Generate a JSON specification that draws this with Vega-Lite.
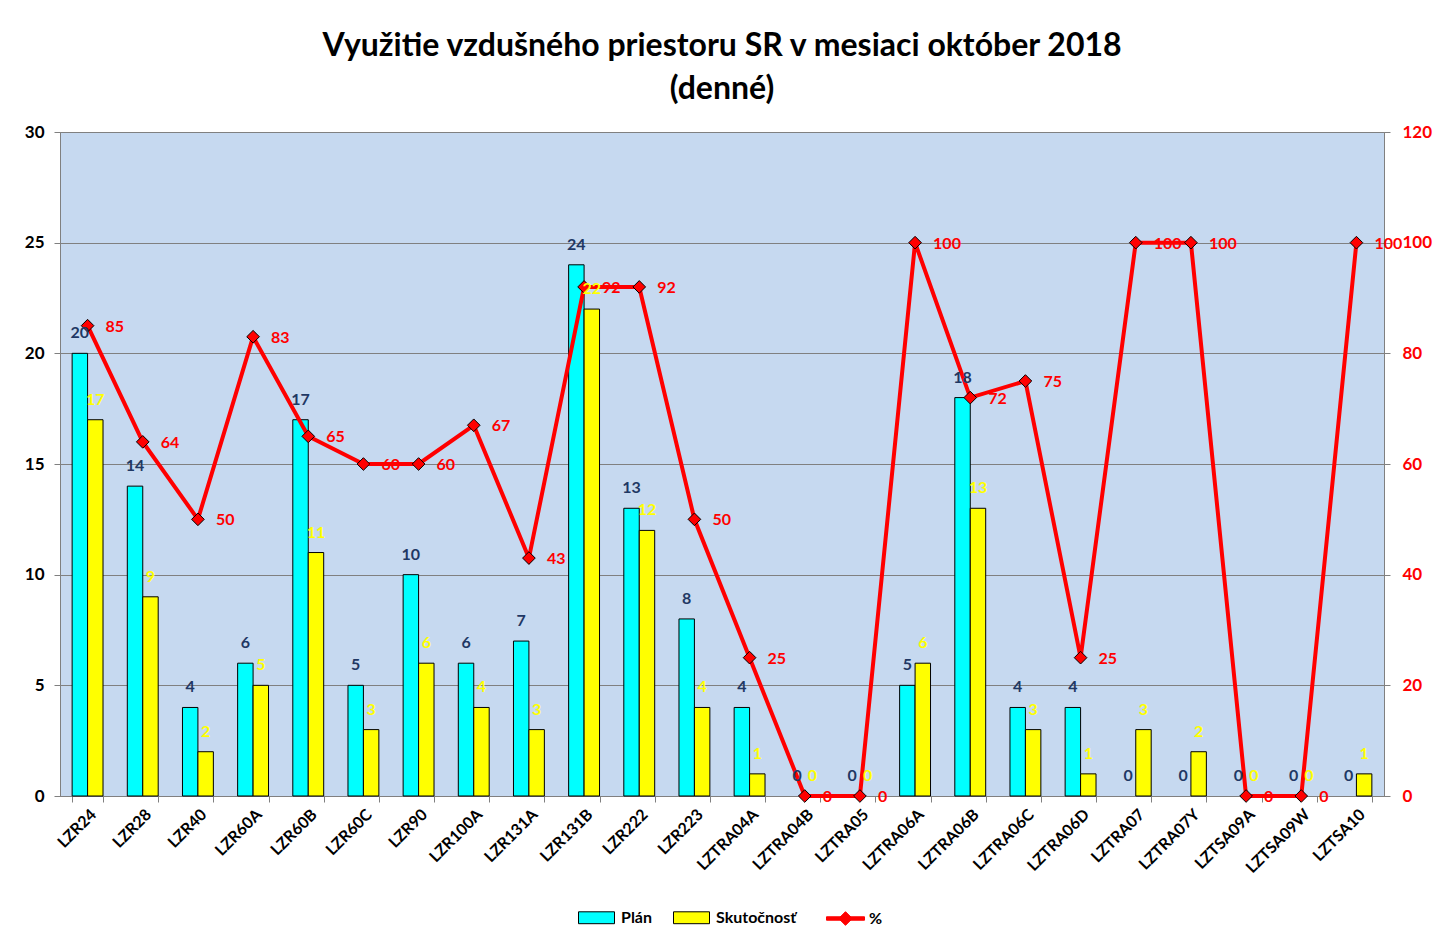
{
  "$schema": "https://vega.github.io/schema/vega-lite/v6.json",
  "width": 1324,
  "height": 664,
  "autosize": {"type": "none"},
  "padding": {"left": 60, "top": 132, "right": 72, "bottom": 144},
  "background": "white",
  "title": {
    "text": ["Využitie vzdušného priestoru SR v mesiaci október 2018", "(denné)"],
    "font": "Lato",
    "fontSize": 32,
    "fontWeight": "bold",
    "color": "black",
    "anchor": "middle",
    "offset": 17,
    "lineHeight": 43
  },
  "config": {
    "view": {"fill": "#C6D9F0", "stroke": "#808080"},
    "font": "Lato"
  },
  "data": {
    "values": [
      {"cat": "LZR24", "Plán": 20, "Skutočnosť": 17, "pct": 85},
      {"cat": "LZR28", "Plán": 14, "Skutočnosť": 9, "pct": 64},
      {"cat": "LZR40", "Plán": 4, "Skutočnosť": 2, "pct": 50},
      {"cat": "LZR60A", "Plán": 6, "Skutočnosť": 5, "pct": 83},
      {"cat": "LZR60B", "Plán": 17, "Skutočnosť": 11, "pct": 65},
      {"cat": "LZR60C", "Plán": 5, "Skutočnosť": 3, "pct": 60},
      {"cat": "LZR90", "Plán": 10, "Skutočnosť": 6, "pct": 60},
      {"cat": "LZR100A", "Plán": 6, "Skutočnosť": 4, "pct": 67},
      {"cat": "LZR131A", "Plán": 7, "Skutočnosť": 3, "pct": 43},
      {"cat": "LZR131B", "Plán": 24, "Skutočnosť": 22, "pct": 92},
      {"cat": "LZR222", "Plán": 13, "Skutočnosť": 12, "pct": 92},
      {"cat": "LZR223", "Plán": 8, "Skutočnosť": 4, "pct": 50},
      {"cat": "LZTRA04A", "Plán": 4, "Skutočnosť": 1, "pct": 25},
      {"cat": "LZTRA04B", "Plán": 0, "Skutočnosť": 0, "pct": 0},
      {"cat": "LZTRA05", "Plán": 0, "Skutočnosť": 0, "pct": 0},
      {"cat": "LZTRA06A", "Plán": 5, "Skutočnosť": 6, "pct": 100},
      {"cat": "LZTRA06B", "Plán": 18, "Skutočnosť": 13, "pct": 72},
      {"cat": "LZTRA06C", "Plán": 4, "Skutočnosť": 3, "pct": 75},
      {"cat": "LZTRA06D", "Plán": 4, "Skutočnosť": 1, "pct": 25},
      {"cat": "LZTRA07", "Plán": 0, "Skutočnosť": 3, "pct": 100},
      {"cat": "LZTRA07Y", "Plán": 0, "Skutočnosť": 2, "pct": 100},
      {"cat": "LZTSA09A", "Plán": 0, "Skutočnosť": 0, "pct": 0},
      {"cat": "LZTSA09W", "Plán": 0, "Skutočnosť": 0, "pct": 0},
      {"cat": "LZTSA10", "Plán": 0, "Skutočnosť": 1, "pct": 100}
    ]
  },
  "encoding": {
    "x": {
      "field": "cat",
      "type": "nominal",
      "sort": null,
      "scale": {
        "domain": ["LZR24", "LZR28", "LZR40", "LZR60A", "LZR60B", "LZR60C", "LZR90", "LZR100A", "LZR131A", "LZR131B", "LZR222", "LZR223", "LZTRA04A", "LZTRA04B", "LZTRA05", "LZTRA06A", "LZTRA06B", "LZTRA06C", "LZTRA06D", "LZTRA07", "LZTRA07Y", "LZTSA09A", "LZTSA09W", "LZTSA10"],
        "paddingInner": 0.44,
        "paddingOuter": 0.22
      },
      "axis": {
        "title": null,
        "labelAngle": -45,
        "labelAlign": "right",
        "labelBaseline": "top",
        "labelFontSize": 16,
        "labelFontWeight": "bold",
        "labelColor": "black",
        "tickBand": "extent",
        "tickColor": "#808080",
        "domainColor": "#808080",
        "tickSize": 6,
        "labelPadding": 4,
        "grid": false
      }
    }
  },
  "layer": [
    {
      "transform": [
        {"fold": ["Plán", "Skutočnosť"], "as": ["series", "value"]},
        {"filter": "datum.value > 0"}
      ],
      "mark": {"type": "bar", "stroke": "black", "strokeWidth": 1},
      "encoding": {
        "xOffset": {"field": "series", "type": "nominal", "sort": ["Plán", "Skutočnosť"], "scale": {"domain": ["Plán", "Skutočnosť"]}},
        "y": {
          "field": "value",
          "type": "quantitative",
          "scale": {"domain": [0, 30], "nice": false},
          "axis": {
            "title": null,
            "values": [0, 5, 10, 15, 20, 25, 30],
            "labelFontSize": 17,
            "labelFontWeight": "bold",
            "labelColor": "black",
            "domainColor": "#808080",
            "tickColor": "#808080",
            "tickSize": 6,
            "labelPadding": 10,
            "grid": true,
            "gridColor": "#808080",
            "gridWidth": 1
          }
        },
        "color": {
          "field": "series",
          "type": "nominal",
          "scale": {"domain": ["Plán", "Skutočnosť"], "range": ["#00FFFF", "#FFFF00"]},
          "legend": {
            "orient": "none",
            "legendX": 518,
            "legendY": 767,
            "direction": "horizontal",
            "title": null,
            "labelFontSize": 16,
            "labelFontWeight": "bold",
            "labelColor": "black",
            "symbolType": "M-1,-0.33H1V0.33H-1Z",
            "symbolSize": 1296,
            "symbolOpacity": 1,
            "symbolStrokeColor": "black",
            "symbolStrokeWidth": 1,
            "columnPadding": 19,
            "labelOffset": 6
          }
        }
      }
    },
    {
      "encoding": {
        "y": {
          "field": "pct",
          "type": "quantitative",
          "scale": {"domain": [0, 120], "nice": false},
          "axis": {
            "orient": "right",
            "title": null,
            "values": [0, 20, 40, 60, 80, 100, 120],
            "labelFontSize": 17,
            "labelFontWeight": "bold",
            "labelColor": "#FF0000",
            "domainColor": "#808080",
            "tickColor": "#808080",
            "tickSize": 6,
            "labelPadding": 12,
            "grid": false
          }
        }
      },
      "layer": [
        {
          "mark": {"type": "line", "strokeWidth": 4, "color": "#FF0000"}
        },
        {
          "mark": {"type": "point", "shape": "diamond", "filled": true, "size": 160, "stroke": "black", "strokeWidth": 1, "opacity": 1},
          "encoding": {
            "fill": {
              "datum": "%",
              "scale": {"domain": ["%"], "range": ["#FF0000"]},
              "legend": {
                "orient": "none",
                "legendX": 766,
                "legendY": 767,
                "direction": "horizontal",
                "title": null,
                "labelFontSize": 16,
                "labelFontWeight": "bold",
                "labelColor": "black",
                "symbolType": "M-1,-0.09H1V0.09H-1Z M-0.36,0L0,-0.36L0.36,0L0,0.36Z",
                "symbolSize": 1444,
                "symbolOpacity": 1,
                "symbolFillColor": "#FF0000",
                "symbolStrokeColor": "#FF0000",
                "symbolStrokeWidth": 1,
                "labelOffset": 4
              }
            }
          }
        },
        {
          "mark": {"type": "text", "align": "left", "baseline": "middle", "dx": 18, "dy": 1, "fontSize": 16, "fontWeight": "bold", "color": "#FF0000"},
          "encoding": {"text": {"field": "pct", "type": "quantitative"}}
        }
      ]
    },
    {
      "transform": [{"fold": ["Plán", "Skutočnosť"], "as": ["series", "value"]}],
      "mark": {"type": "text", "baseline": "middle", "dy": -20, "fontSize": 16, "fontWeight": "bold"},
      "encoding": {
        "xOffset": {"field": "series", "type": "nominal", "sort": ["Plán", "Skutočnosť"], "scale": {"domain": ["Plán", "Skutočnosť"]}},
        "y": {
          "field": "value",
          "type": "quantitative",
          "scale": {"domain": [0, 30], "nice": false},
          "axis": null
        },
        "text": {"field": "value", "type": "quantitative"},
        "color": {"condition": {"test": "datum.series === 'Plán'", "value": "#1F3864"}, "value": "#FFFF00"}
      }
    }
  ],
  "resolve": {"scale": {"y": "independent"}}
}
